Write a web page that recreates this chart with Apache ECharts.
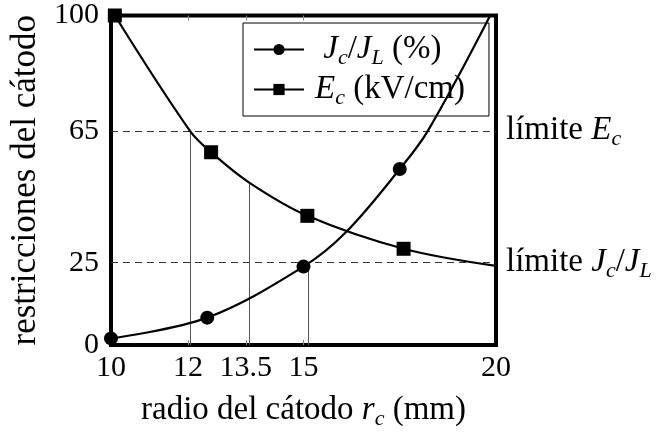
<!DOCTYPE html>
<html><head><meta charset="utf-8">
<script src="https://cdn.jsdelivr.net/npm/echarts@6/dist/echarts.min.js"></script>
<style>html,body{margin:0;padding:0;background:#fff}#c{width:671px;height:435px}</style>
</head><body><div id="c"></div>
<script>
// Data
var jcData = [[10, 2.0], [12.5, 8.3], [15, 23.8], [17.5, 53.4]];          // marked points
var jcCurveExtra = [[16.1, 34.2], [18.23, 65], [19.85, 100]];              // unmarked curve points
var ecData = [[10.1, 100], [12.6, 58.5], [15.1, 39.2], [17.6, 29.2]];      // marked points
var ecCurveExtra = [[12.05, 65], [13.6, 49.2], [20, 24]];                  // unmarked curve points
var xTickLabels = [10, 12, 13.5, 15, 20];
var xInnerTicks = [12, 13.5, 15];
var yTickLabels = [0, 25, 65, 100];
var limitE = 65, limitJ = 25;
var guideLines = [[12.05, 65], [13.6, 49.2], [15.12, 25]];

var FONT = 'Liberation Serif';
var FS = 33, FSN = 30;
var rich = {
  r: {fontFamily: FONT, fontSize: FS, color: '#000'},
  i: {fontFamily: FONT, fontSize: FS, fontStyle: 'italic', color: '#000'},
  s: {fontFamily: FONT, fontSize: 22, fontStyle: 'italic', color: '#000', padding: [17, 0, 0, 0]}
};

function buildSeries(marked, extra) {
  var all = marked.map(function (d) { return {value: d}; })
    .concat(extra.map(function (d) { return {value: d, symbol: 'none'}; }));
  all.sort(function (a, b) { return a.value[0] - b.value[0]; });
  return all;
}

var chart = echarts.init(document.getElementById('c'));

chart.setOption({
  animation: false,
  grid: {left: 109, right: 175, top: 15.5, bottom: 85.7, show: true, borderColor: '#000', borderWidth: 4, backgroundColor: 'transparent'},
  xAxis: [{
    type: 'value', min: 10, max: 20, interval: 0.5,
    axisLine: {show: false}, splitLine: {show: false},
    axisTick: {show: true, inside: true, length: 5, customValues: xInnerTicks, lineStyle: {color: '#888', width: 1}},
    axisLabel: {customValues: xTickLabels, fontFamily: FONT, fontSize: FSN, color: '#000', margin: 8},
    name: '{r|radio del cátodo }{i|r}{s|c}{r| (mm)}', nameLocation: 'middle', nameGap: 46,
    nameTextStyle: {rich: rich}
  }, {
    type: 'value', min: 10, max: 20, interval: 0.5, position: 'top',
    axisLine: {show: false}, splitLine: {show: false}, axisLabel: {show: false},
    axisTick: {show: true, inside: true, length: 5, customValues: xInnerTicks, lineStyle: {color: '#888', width: 1}}
  }],
  yAxis: {
    type: 'value', min: 0, max: 100, interval: 5,
    axisLine: {show: false}, splitLine: {show: false}, axisTick: {show: false},
    axisLabel: {customValues: yTickLabels, fontFamily: FONT, fontSize: FSN, color: '#000', margin: 12},
    name: 'restricciones del cátodo', nameLocation: 'middle', nameGap: 68,
    nameTextStyle: {fontFamily: FONT, fontSize: 35, color: '#000'}
  },
  legend: {
    left: 243, top: 23, orient: 'vertical',
    backgroundColor: '#fff', borderColor: '#000', borderWidth: 1,
    padding: [10, 24, 7, 10], itemGap: 4, itemWidth: 50, itemHeight: 14,
    data: ['Jc', 'Ec'],
    formatter: function (n) {
      return n === 'Jc' ? '{r| }{i|J}{s|c}{r|/}{i|J}{s|L}{r| (%)}' : '{i|E}{s|c}{r| (kV/cm)}';
    },
    textStyle: {rich: rich, padding: [0, 0, 0, 6]}
  },
  series: [{
    name: 'Jc', type: 'line', smooth: 0.35, data: buildSeries(jcData, jcCurveExtra),
    symbol: 'circle', symbolSize: 14, z: 5,
    lineStyle: {color: '#000', width: 2.2}, itemStyle: {color: '#000'},
    markLine: {
      silent: true, symbol: 'none', animation: false,
      lineStyle: {color: '#333', width: 1, type: [7, 5]},
      label: {show: true, position: 'end', distance: 10, formatter: function (p) {
        return p.value === limitE ? '{r|límite }{i|E}{s|c}' : '{r|límite }{i|J}{s|c}{r|/}{i|J}{s|L}';
      }, rich: rich},
      data: [{yAxis: limitE}, {yAxis: limitJ}]
    }
  }, {
    name: 'Ec', type: 'line', smooth: 0.35, data: buildSeries(ecData, ecCurveExtra),
    symbol: 'rect', symbolSize: 14, z: 5,
    lineStyle: {color: '#000', width: 2.2}, itemStyle: {color: '#000'},
    markLine: {
      silent: true, symbol: 'none', animation: false,
      lineStyle: {color: '#555', width: 1, type: 'solid'}, label: {show: false},
      data: guideLines.map(function (g) { return [{coord: [g[0], 0]}, {coord: [g[0], g[1]]}]; })
    }
  }]
});
</script></body></html>
